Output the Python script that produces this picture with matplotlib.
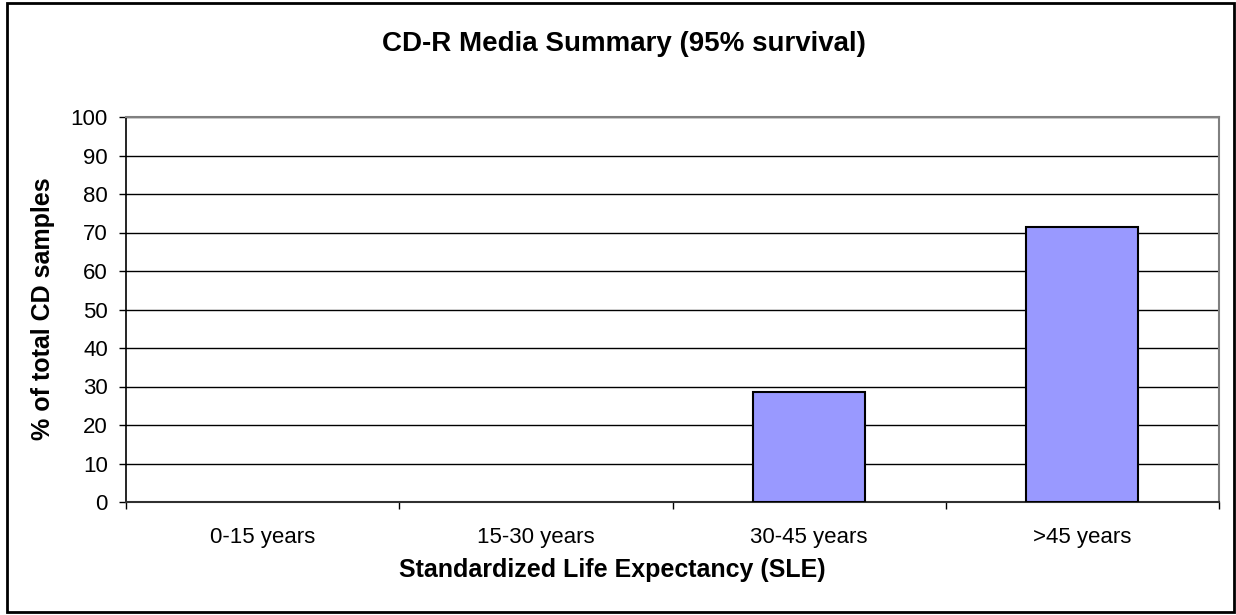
import matplotlib
matplotlib.use("Agg")
import matplotlib.pyplot as plt
from matplotlib.patches import Rectangle

plt.rcParams['font.family'] = ['Liberation Sans', 'DejaVu Sans']

categories = ["0-15 years", "15-30 years", "30-45 years", ">45 years"]
values = [0, 0, 28.57, 71.43]
yticks = list(range(0, 101, 10))

title = "CD-R Media Summary (95% survival)"
xlabel = "Standardized Life Expectancy (SLE)"
ylabel = "% of total CD samples"

W, H = 1236, 615
fig = plt.figure(figsize=(W / 100, H / 100), dpi=100)
ax = fig.add_axes([126 / W, 1 - 502 / H, (1219 - 126) / W, (502 - 117) / H])

x = list(range(len(categories)))
edges = ['black' if v > 0 else 'none' for v in values]
ax.bar(x, values, width=0.41, color="#9999FF", edgecolor=edges, linewidth=1.5, zorder=3)

ax.set_xlim(-0.5, len(categories) - 0.5)
ax.set_ylim(0, 100)
ax.set_yticks(yticks)
ax.set_yticklabels([str(v) for v in yticks], fontsize=16)
ax.set_xticks(x)
ax.set_xticklabels(categories, fontsize=16)
ax.set_xticks([i - 0.5 for i in range(len(categories) + 1)], minor=True)
ax.tick_params(axis='x', which='major', length=0, pad=18)
ax.tick_params(axis='x', which='minor', length=5, width=1, direction='out', color='black')
ax.tick_params(axis='y', which='major', length=5, width=1, direction='out', pad=8, color='black')

ax.yaxis.grid(True, color='black', linewidth=1, zorder=0)
ax.set_axisbelow(True)

for s in ['top', 'right']:
    ax.spines[s].set_color('#808080')
    ax.spines[s].set_linewidth(1.5)
ax.spines['left'].set_color('black')
ax.spines['left'].set_linewidth(1.2)
ax.spines['bottom'].set_color('#303030')
ax.spines['bottom'].set_linewidth(1.5)

fig.text(624 / W, 1 - 44 / H, title, ha='center', va='center', fontsize=20, fontweight='bold')
fig.text(612 / W, 1 - 570 / H, xlabel, ha='center', va='center', fontsize=18, fontweight='bold')
fig.text(43 / W, 1 - 309 / H, ylabel, ha='center', va='center', rotation=90, fontsize=18, fontweight='bold')

frame = Rectangle((7 / W, 3 / H), (1234 - 7) / W, (612 - 3) / H, transform=fig.transFigure,
                  fill=False, edgecolor='black', linewidth=2)
fig.patches.append(frame)

fig.savefig("out.png", dpi=100)
